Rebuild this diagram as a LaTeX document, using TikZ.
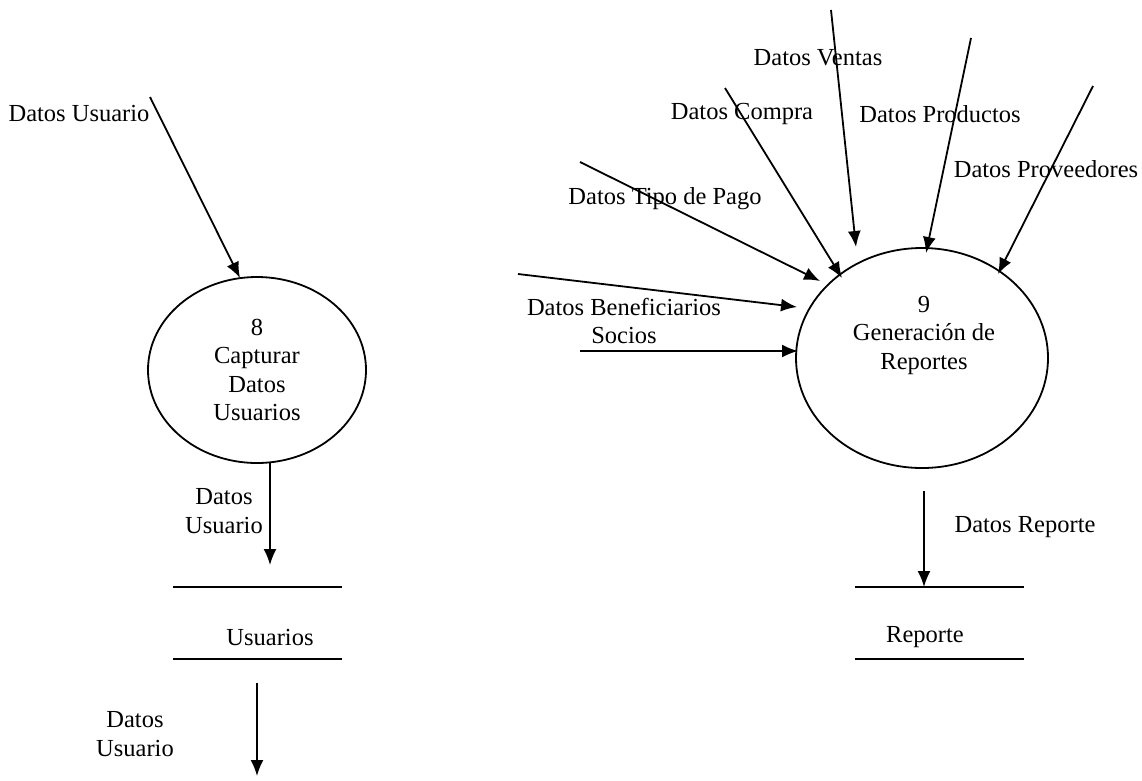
\documentclass[tikz,border=0pt]{standalone}
\usepackage{fontspec}
\setmainfont{Liberation Serif}
\usetikzlibrary{arrows.meta,shapes.geometric,positioning}

\begin{document}
\begin{tikzpicture}[x=1pt,y=-1pt,line width=1.8pt,
  font=\fontsize{24.5}{28.5}\selectfont,
  >={Latex[length=16pt,width=13pt]},
  process/.style={ellipse,draw,inner sep=0pt,align=center},
  lbl/.style={inner sep=0pt,align=center}]
\useasboundingbox (0,0) rectangle (1142,780);

% processes
\node[process,minimum width=218pt,minimum height=186pt] (p8) at (257,370) {8\\Capturar\\Datos\\Usuarios};
\node[process,minimum width=252pt,minimum height=220pt] (p9) at (922,358) {};
\node[lbl] (t9) at (924,335) {9\\Generación de\\Reportes};

% stores
\draw (173,587) -- (342,587);
\draw (173,659) -- (342,659);
\node[lbl] (usuarios) at (270,637) {Usuarios};
\draw (855,587) -- (1024,587);
\draw (855,659) -- (1024,659);
\node[lbl] (reporte) at (925,637) {Reporte};

% labels
\node[lbl] (lu) at (79,114) {Datos Usuario};
\node[lbl] (lu2) at (224,511) {Datos\\Usuario};
\node[lbl] (lu3) at (135,734) {Datos\\Usuario};
\node[lbl] (lv) at (818,58) {Datos Ventas};
\node[lbl] (lc) at (742,114) {Datos Compra};
\node[lbl] (lp) at (940,114) {Datos Productos};
\node[lbl] (lpr) at (1046,169) {Datos Proveedores};
\node[lbl] (lt) at (665,199) {Datos Tipo de Pago};
\node[lbl] (lb) at (624,321) {Datos Beneficiarios\\Socios};
\node[lbl] (lr) at (1025,527) {Datos Reporte};

% free ends
\coordinate (u0) at (150,97);
\coordinate (u1) at (240,278);
\coordinate (a0) at (270,463);
\coordinate (a1) at (270,565);
\coordinate (b0) at (257,683);
\coordinate (b1) at (257,776);
\coordinate (v0) at (831,10);
\coordinate (v1) at (856,247);
\coordinate (c0) at (725,88);
\coordinate (c1) at (842,278);
\coordinate (pd0) at (971,38);
\coordinate (pd1) at (926,253);
\coordinate (pv0) at (1093,86);
\coordinate (pv1) at (998,274);
\coordinate (tp0) at (580,162);
\coordinate (tp1) at (820,281);
\coordinate (bs0) at (518,274);
\coordinate (bs1) at (797,307);
\coordinate (so0) at (580,351);
\coordinate (so1) at (798,351);
\coordinate (r0) at (924,491);
\coordinate (r1) at (924,587);

\draw[->] (u0)--(u1);
\draw[->] (a0)--(a1);
\draw[->] (b0)--(b1);
\draw[->] (v0)--(v1);
\draw[->] (c0)--(c1);
\draw[->] (pd0)--(pd1);
\draw[->] (pv0)--(pv1);
\draw[->] (tp0)--(tp1);
\draw[->] (bs0)--(bs1);
\draw[->] (so0)--(so1);
\draw[->] (r0)--(r1);
\end{tikzpicture}
\end{document}
